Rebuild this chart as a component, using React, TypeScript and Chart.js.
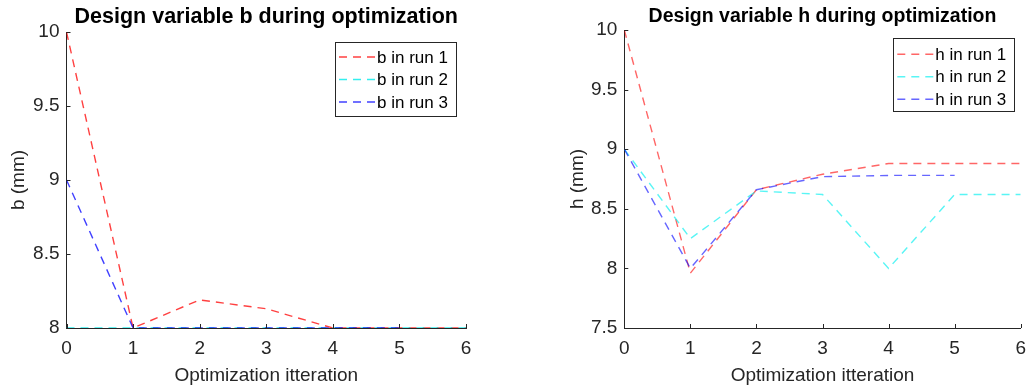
import React, { useEffect, useRef } from "react";
import { Chart, registerables } from "chart.js";

Chart.register(...registerables);

// ---- Data ----
const iterations = [0, 1, 2, 3, 4, 5, 6];

const bRun1 = [10, 8, 8.19, 8.13, 8, 8, 8];
const bRun2 = [8, 8, 8, 8, 8, 8, 8];
const bRun3 = [9, 8, 8, 8, 8, 8];

const hRun1 = [10, 7.96, 8.66, 8.79, 8.88, 8.88, 8.88];
const hRun2 = [9, 8.25, 8.65, 8.62, 8.0, 8.62, 8.62];
const hRun3 = [9, 8.0, 8.66, 8.77, 8.78, 8.78];

const bLabels = ["b in run 1", "b in run 2", "b in run 3"];
const hLabels = ["h in run 1", "h in run 2", "h in run 3"];

const FONT = '"Liberation Sans", Arial, Helvetica, sans-serif';
const AXIS = "#262626";
const AX_FONT = 19;

const toPoints = (ys: number[]) => ys.map((y, i) => ({ x: iterations[i], y }));

const decorPlugin = {
  id: "decor",
  afterDraw(chart: any, _args: any, opts: any) {
    const ctx = chart.ctx as CanvasRenderingContext2D;
    const { left, right, bottom } = chart.chartArea;
    const xs = chart.scales.x;
    const ys = chart.scales.y;
    ctx.save();
    // inward tick marks
    ctx.strokeStyle = AXIS;
    ctx.lineWidth = 1;
    ctx.beginPath();
    xs.ticks.forEach((t: any) => {
      const px = Math.round(xs.getPixelForValue(t.value)) + 0.5;
      ctx.moveTo(px, bottom);
      ctx.lineTo(px, bottom - 4);
    });
    ys.ticks.forEach((t: any) => {
      const py = Math.round(ys.getPixelForValue(t.value)) + 0.5;
      ctx.moveTo(left, py);
      ctx.lineTo(left + 4, py);
    });
    ctx.stroke();

    // title
    ctx.font = `bold ${opts.titleSize}px ${FONT}`;
    ctx.fillStyle = "#000";
    ctx.textAlign = "center";
    ctx.textBaseline = "alphabetic";
    ctx.fillText(opts.title, (left + right) / 2, opts.titleY);

    // legend box
    const L = opts.legend;
    ctx.fillStyle = "#fff";
    ctx.fillRect(L.x, L.y, L.w, L.h);
    ctx.strokeStyle = AXIS;
    ctx.lineWidth = 1;
    ctx.strokeRect(Math.round(L.x) + 0.5, Math.round(L.y) + 0.5, Math.round(L.w), Math.round(L.h));
    ctx.font = `17px ${FONT}`;
    ctx.textAlign = "left";
    ctx.textBaseline = "middle";
    chart.data.datasets.forEach((ds: any, i: number) => {
      const cy = L.y + L.rows[i];
      ctx.save();
      ctx.strokeStyle = ds.borderColor;
      ctx.lineWidth = ds.borderWidth;
      ctx.setLineDash(ds.borderDash);
      ctx.beginPath();
      ctx.moveTo(L.x + 4, cy);
      ctx.lineTo(L.x + 41, cy);
      ctx.stroke();
      ctx.restore();
      ctx.fillStyle = "#000";
      ctx.fillText(ds.label, L.x + 42, cy + 1);
    });
    ctx.restore();
  },
};

type PanelProps = {
  left: number;
  width: number;
  series: number[][];
  labels: string[];
  colors: string[];
  yMin: number;
  yMax: number;
  yTitle: string;
  title: string;
  titleSize: number;
  titleY: number;
  padLeft: number;
  padRight: number;
  padTop: number;
  yWidth: number;
  legend: any;
};

function Panel(p: PanelProps) {
  const ref = useRef<HTMLCanvasElement>(null);
  useEffect(() => {
    const chart = new Chart(ref.current!, {
      type: "line",
      data: {
        datasets: p.series.map((s, i) => ({
          label: p.labels[i],
          data: toPoints(s),
          borderColor: p.colors[i],
          backgroundColor: p.colors[i],
          borderWidth: 1.4,
          borderDash: [8, 6],
          pointRadius: 0,
          tension: 0,
          fill: false,
          order: 3 - i,
        })),
      },
      options: {
        animation: false,
        responsive: false,
        devicePixelRatio: 1,
        layout: { padding: { left: p.padLeft, right: p.padRight, top: p.padTop, bottom: 0 } },
        plugins: {
          legend: { display: false },
          tooltip: { enabled: false },
          title: { display: false },
          decor: { title: p.title, titleSize: p.titleSize, titleY: p.titleY, legend: p.legend },
        } as any,
        scales: {
          x: {
            type: "linear",
            min: 0,
            max: 6,
            afterFit: (s: any) => {
              s.height = 64;
            },
            ticks: {
              stepSize: 1,
              color: AXIS,
              font: { family: FONT, size: AX_FONT },
              padding: 9,
              maxRotation: 0,
              callback: (v: any) => String(Number(v)),
            },
            grid: { display: false, drawTicks: false },
            border: { display: true, color: AXIS, width: 1 },
            title: {
              display: true,
              text: "Optimization itteration",
              color: AXIS,
              font: { family: FONT, size: AX_FONT },
              padding: { top: 0, bottom: 5 },
            },
          },
          y: {
            type: "linear",
            min: p.yMin,
            max: p.yMax,
            afterFit: (s: any) => {
              s.width = p.yWidth;
            },
            ticks: {
              stepSize: 0.5,
              color: AXIS,
              font: { family: FONT, size: AX_FONT },
              padding: 7,
              callback: (v: any) => String(Number(v)),
            },
            grid: { display: false, drawTicks: false },
            border: { display: true, color: AXIS, width: 1 },
            title: {
              display: true,
              text: p.yTitle,
              color: AXIS,
              font: { family: FONT, size: AX_FONT },
              padding: { top: 7, bottom: 0 },
            },
          },
        },
      },
      plugins: [decorPlugin],
    });
    return () => chart.destroy();
  }, []);
  return (
    <canvas
      ref={ref}
      width={p.width}
      height={392}
      style={{ position: "absolute", left: p.left, top: 0, width: p.width, height: 392 }}
    />
  );
}

export default function App() {
  return (
    <div style={{ position: "absolute", left: 0, top: 0, width: 1035, height: 392, background: "#fff" }}>
      <Panel
        left={0}
        width={517}
        series={[bRun1, bRun2, bRun3]}
        labels={bLabels}
        colors={["rgba(255,0,0,0.75)", "rgba(0,235,235,0.8)", "rgba(0,0,255,0.75)"]}
        yMin={8}
        yMax={10}
        yTitle="b (mm)"
        title="Design variable b during optimization"
        titleSize={21.5}
        titleY={22.7}
        padLeft={0}
        padRight={51}
        padTop={32}
        yWidth={66.5}
        legend={{ x: 335, y: 42, w: 121, h: 74, rows: [15, 37.5, 60] }}
      />
      <Panel
        left={517}
        width={518}
        series={[hRun1, hRun2, hRun3]}
        labels={hLabels}
        colors={["rgba(255,0,0,0.6)", "rgba(0,240,240,0.65)", "rgba(0,0,255,0.6)"]}
        yMin={7.5}
        yMax={10}
        yTitle="h (mm)"
        title="Design variable h during optimization"
        titleSize={19.5}
        titleY={21.5}
        padLeft={42}
        padRight={10.7}
        padTop={30}
        yWidth={65.3}
        legend={{ x: 376.3, y: 38.3, w: 121, h: 73.4, rows: [16, 38.5, 61] }}
      />
    </div>
  );
}
